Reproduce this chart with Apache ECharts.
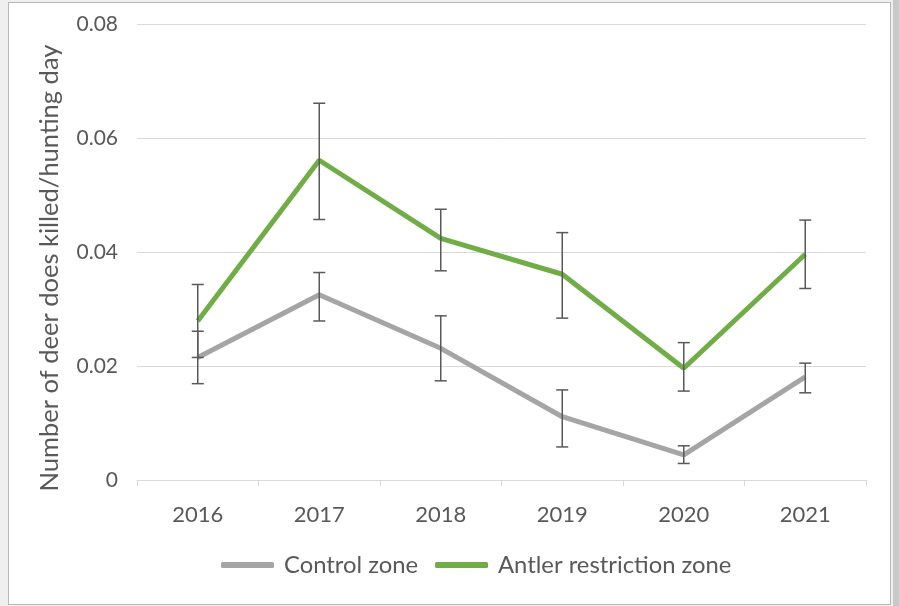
<!DOCTYPE html>
<html>
<head>
<meta charset="utf-8">
<script src="https://cdn.jsdelivr.net/npm/echarts@6/dist/echarts.min.js"></script>
<style>
  html, body { margin: 0; padding: 0; width: 899px; height: 606px; overflow: hidden; background: #efefef; }
  #frame { position: absolute; left: 8px; top: 2px; width: 883px; height: 603px; background: #fff; border: 1px solid #b8b8b8; box-sizing: border-box; }
  #edge { position: absolute; left: 893px; top: 0; width: 6px; height: 606px; background: #c9c9c9; }
  #main { position: absolute; left: 0; top: 0; width: 899px; height: 606px; }
</style>
</head>
<body>
<div id="frame"></div>
<div id="edge"></div>
<div id="main"></div>
<script>
  const years = ['2016', '2017', '2018', '2019', '2020', '2021']
  const controlVals = [0.0215, 0.0325, 0.0231, 0.0111, 0.0044, 0.0181]
  const controlLow = [0.0169, 0.0279, 0.0174, 0.0058, 0.0029, 0.0153]
  const controlHigh = [0.0261, 0.0364, 0.0288, 0.0158, 0.0060, 0.0205]
  const antlerVals = [0.0279, 0.0561, 0.0424, 0.0361, 0.0196, 0.0396]
  const antlerLow = [0.0215, 0.0457, 0.0367, 0.0284, 0.0156, 0.0336]
  const antlerHigh = [0.0343, 0.0661, 0.0475, 0.0434, 0.0241, 0.0456]

  const font = 'Lato, "Open Sans", sans-serif'
  const textColor = '#595959'

  var myChart = echarts.init(document.getElementById('main'))

  // error bars: vertical line with caps, drawn from low/high arrays
  const errorBar = (low, high) => ({
    type: 'custom',
    z: 5,
    data: years.map((y, i) => [i, low[i], high[i]]),
    renderItem: (params, api) => {
      var lo = api.coord([api.value(0), api.value(1)])
      var hi = api.coord([api.value(0), api.value(2)])
      var w = 6
      var style = { stroke: '#595959', lineWidth: 1.5 }
      return {
        type: 'group',
        children: [
          { type: 'line', shape: { x1: lo[0], y1: lo[1], x2: hi[0], y2: hi[1] }, style: style },
          { type: 'line', shape: { x1: lo[0] - w, y1: lo[1], x2: lo[0] + w, y2: lo[1] }, style: style },
          { type: 'line', shape: { x1: hi[0] - w, y1: hi[1], x2: hi[0] + w, y2: hi[1] }, style: style }
        ]
      }
    }
  })

  var option = {
    animation: false,
    textStyle: { fontFamily: font },
    grid: { left: 137, right: 33, top: 24, bottom: 126 },
    legend: {
      bottom: 24,
      left: 216,
      itemWidth: 53,
      itemHeight: 6,
      itemGap: 17,
      icon: 'roundRect',
      textStyle: { fontSize: 23.8, color: textColor, fontFamily: font, padding: [0, 0, 0, 5] },
      data: ['Control zone', 'Antler restriction zone']
    },
    xAxis: {
      type: 'category',
      data: years,
      boundaryGap: true,
      axisLine: { lineStyle: { color: '#d9d9d9', width: 1 } },
      axisTick: { show: true, length: 6, lineStyle: { color: '#d9d9d9' } },
      axisLabel: { fontSize: 22, color: textColor, margin: 24 }
    },
    yAxis: {
      type: 'value',
      min: 0,
      max: 0.08,
      interval: 0.02,
      name: 'Number of deer does killed/hunting day',
      nameLocation: 'middle',
      nameGap: 74,
      nameTextStyle: { fontSize: 25.5, color: textColor, padding: [0, 32, 0, 0] },
      axisLine: { show: false },
      axisTick: { show: false },
      axisLabel: { fontSize: 21, color: textColor, margin: 19, formatter: v => v === 0 ? '0' : v.toFixed(2) },
      splitLine: { lineStyle: { color: '#d9d9d9', width: 1 } }
    },
    series: [
      {
        name: 'Control zone',
        type: 'line',
        data: controlVals,
        symbol: 'none',
        color: '#a5a5a5',
        lineStyle: { width: 5, color: '#a5a5a5' }
      },
      {
        name: 'Antler restriction zone',
        type: 'line',
        data: antlerVals,
        symbol: 'none',
        color: '#70ad47',
        lineStyle: { width: 5, color: '#70ad47' }
      },
      errorBar(controlLow, controlHigh),
      errorBar(antlerLow, antlerHigh)
    ]
  }

  option && myChart.setOption(option)
</script>
</body>
</html>
